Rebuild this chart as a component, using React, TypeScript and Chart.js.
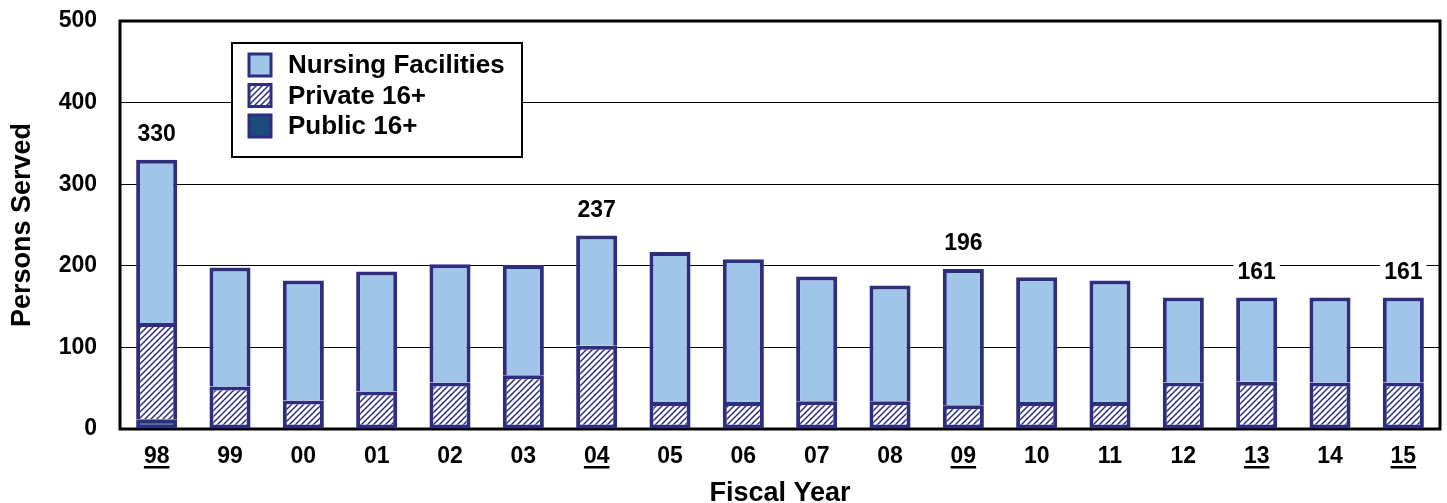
import { useEffect, useRef } from 'react'
import { Chart, registerables, Plugin } from 'chart.js'

Chart.register(...registerables)

// fiscal years and served counts per setting
const categories = ['98', '99', '00', '01', '02', '03', '04', '05', '06', '07', '08', '09', '10', '11', '12', '13', '14', '15']
const publicValues = [12, 0, 0, 0, 0, 0, 0, 0, 0, 0, 0, 0, 0, 0, 0, 0, 0, 0]
const privateValues = [118, 52, 35, 46, 57, 66, 102, 33, 33, 34, 34, 29, 33, 33, 57, 58, 57, 57]
const nursingValues = [200, 146, 147, 147, 145, 135, 135, 184, 175, 153, 142, 167, 153, 149, 104, 103, 104, 104]
const highlightYears = ['98', '04', '09', '13', '15']
const yTicks = [0, 100, 200, 300, 400, 500]

const NAVY = '#2E2D7E'
const LIGHT = '#9FC5E8'
const DARK = '#1D4B7E'
const FONT = "Arial, 'Liberation Sans', sans-serif"

function makeHatch(): CanvasPattern | string {
  const c = document.createElement('canvas')
  c.width = 6
  c.height = 6
  const g = c.getContext('2d')
  if (!g) return '#fff'
  g.fillStyle = '#fff'
  g.fillRect(0, 0, 6, 6)
  g.strokeStyle = NAVY
  g.lineWidth = 1.5
  g.beginPath()
  g.moveTo(0, 6); g.lineTo(6, 0)
  g.moveTo(-1, 1); g.lineTo(1, -1)
  g.moveTo(5, 7); g.lineTo(7, 5)
  g.stroke()
  const p = g.createPattern(c, 'repeat')
  return p || '#fff'
}

// frame round the plot area
const framePlugin: Plugin<'bar'> = {
  id: 'frame',
  beforeDatasetsDraw(chart) {
    const { ctx, chartArea: a } = chart
    ctx.save()
    ctx.strokeStyle = '#000'
    ctx.lineWidth = 3
    ctx.strokeRect(a.left, a.top, a.right - a.left, a.bottom - a.top)
    ctx.restore()
  }
}

// totals above highlighted years, underlines under their ticks, and the boxed legend
const extrasPlugin: Plugin<'bar'> = {
  id: 'extras',
  afterDatasetsDraw(chart) {
    const { ctx } = chart
    const x = chart.scales.x
    const y = chart.scales.y
    ctx.save()
    ctx.textAlign = 'center'
    ctx.textBaseline = 'middle'
    highlightYears.forEach((yr) => {
      const i = categories.indexOf(yr)
      const total = publicValues[i] + privateValues[i] + nursingValues[i]
      const px = x.getPixelForValue(i)
      const py = y.getPixelForValue(total) - 25
      const label = String(total)
      ctx.font = `bold 23px ${FONT}`
      const w = ctx.measureText(label).width
      ctx.fillStyle = '#fff'
      ctx.fillRect(px - w / 2 - 4, py - 11, w + 8, 22)
      ctx.fillStyle = '#000'
      ctx.fillText(label, px, py)
      // underline the tick label
      const tw = ctx.measureText(yr).width
      ctx.fillRect(px - tw / 2, 466, tw, 2.5)
    })

    // legend
    const lx = 232, ly = 43, lw = 290, lh = 114
    ctx.fillStyle = '#fff'
    ctx.fillRect(lx, ly, lw, lh)
    ctx.strokeStyle = '#000'
    ctx.lineWidth = 2
    ctx.strokeRect(lx, ly, lw, lh)
    const items = [...chart.data.datasets].reverse()
    ctx.font = `bold 26px ${FONT}`
    ctx.textAlign = 'left'
    items.forEach((ds, k) => {
      const cy = 65 + k * 30.5
      ctx.fillStyle = ds.backgroundColor as any
      ctx.fillRect(249, cy - 11, 22, 22)
      ctx.strokeStyle = NAVY
      ctx.lineWidth = 3
      ctx.strokeRect(249, cy - 11, 22, 22)
      ctx.fillStyle = '#000'
      ctx.fillText(ds.label || '', 288, cy + 1)
    })
    ctx.restore()
  }
}

export default function App() {
  const chartRef = useRef<HTMLCanvasElement>(null)
  const chartInstance = useRef<Chart | null>(null)

  useEffect(() => {
    document.body.style.margin = '0'
    if (!chartRef.current) return
    if (chartInstance.current) chartInstance.current.destroy()
    const hatch = makeHatch()

    chartInstance.current = new Chart(chartRef.current, {
      type: 'bar',
      data: {
        labels: categories,
        datasets: [
          {
            label: 'Public 16+',
            data: publicValues,
            backgroundColor: DARK,
            borderColor: NAVY,
            borderWidth: 4,
            borderSkipped: false
          },
          {
            label: 'Private 16+',
            data: privateValues,
            backgroundColor: hatch as any,
            borderColor: NAVY,
            borderWidth: 4,
            borderSkipped: ((c: any) => (publicValues[c.dataIndex] > 0 ? 'bottom' : false)) as any
          },
          {
            label: 'Nursing Facilities',
            data: nursingValues,
            backgroundColor: LIGHT,
            borderColor: NAVY,
            borderWidth: 4,
            borderSkipped: 'bottom'
          }
        ]
      },
      options: {
        animation: false,
        responsive: true,
        maintainAspectRatio: false,
        layout: { padding: { top: 21, right: 7, left: 0, bottom: 0 } },
        datasets: { bar: { categoryPercentage: 1, barPercentage: 0.56 } },
        plugins: {
          legend: { display: false },
          tooltip: { enabled: false }
        },
        scales: {
          x: {
            stacked: true,
            grid: { display: false, drawTicks: false },
            border: { display: false },
            ticks: { color: '#000', padding: 14, font: { family: FONT, size: 23, weight: 'bold' } },
            title: {
              display: true,
              text: 'Fiscal Year',
              color: '#000',
              font: { family: FONT, size: 27, weight: 'bold' },
              padding: { top: 0, bottom: -7 }
            },
            afterFit: (s: any) => { s.height = 74; s.paddingLeft = 0; s.paddingRight = 0 }
          },
          y: {
            stacked: true,
            min: 0,
            max: 500,
            afterBuildTicks: (s: any) => { s.ticks = yTicks.map((v) => ({ value: v })) },
            grid: { color: '#000', lineWidth: 1, drawTicks: false },
            border: { display: false },
            ticks: { color: '#000', padding: 23, font: { family: FONT, size: 23, weight: 'bold' } },
            title: {
              display: true,
              text: 'Persons Served',
              color: '#000',
              font: { family: FONT, size: 27, weight: 'bold' },
              padding: { top: 6, bottom: 0 }
            },
            afterFit: (s: any) => { s.width = 120; s.paddingTop = 0; s.paddingBottom = 0 }
          }
        }
      },
      plugins: [framePlugin, extrasPlugin]
    })

    return () => {
      if (chartInstance.current) {
        chartInstance.current.destroy()
        chartInstance.current = null
      }
    }
  }, [])

  return (
    <div style={{ width: 1447, height: 503, position: 'relative' }}>
      <canvas ref={chartRef} />
    </div>
  )
}
